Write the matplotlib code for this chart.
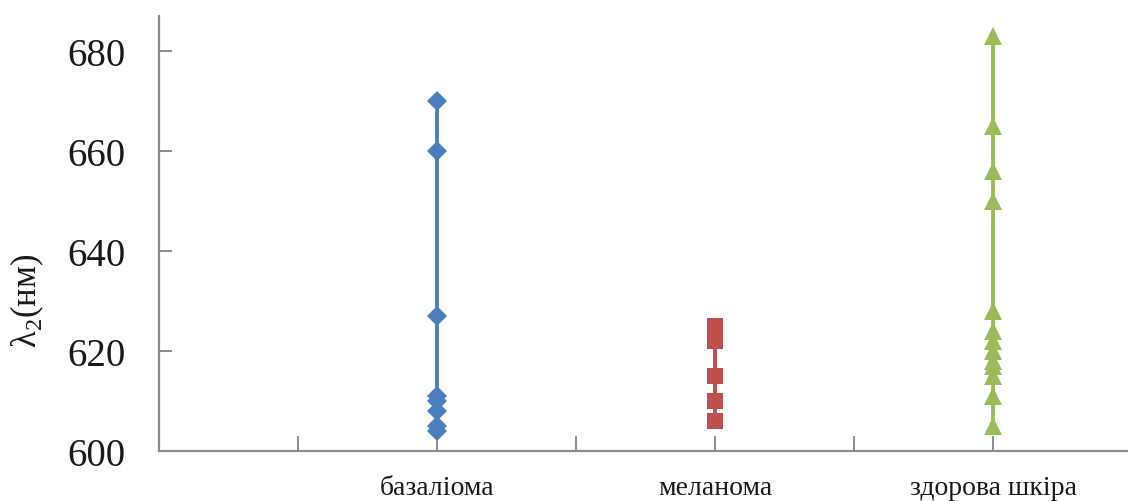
import matplotlib
matplotlib.use('Agg')
import matplotlib.pyplot as plt

# значення λ2 для кожної групи
categories = ['базаліома', 'меланома', 'здорова шкіра']
bazalioma = [670, 660, 627, 611, 610, 608, 605, 604]
melanoma = [625, 622, 615, 610, 606]
zdorova = [683, 665, 656, 650, 628, 624, 622, 620, 618, 617, 615, 611, 605]
y_ticks = [600, 620, 640, 660, 680]

plt.rcParams['font.family'] = ['Liberation Serif', 'DejaVu Serif']
plt.rcParams['mathtext.fontset'] = 'custom'
plt.rcParams['mathtext.rm'] = 'Liberation Serif'

fig = plt.figure(figsize=(11.28, 5.02), dpi=100)
ax = fig.add_axes([0.141, 0.0996, 0.859, 0.866])

series = [
    (bazalioma, 'D', 10, '#4A7EBE'),
    (melanoma, 's', 11.5, '#C0504D'),
    (zdorova, '^', 13, '#9BBB59'),
]
for i, (vals, marker, ms, color) in enumerate(series):
    x = [i + 1] * len(vals)
    ax.plot(x, vals, color=color, linewidth=2.8, marker=marker,
            markersize=ms, markeredgewidth=0, zorder=3)

ax.set_xlim(0, 3.485)
ax.set_ylim(600, 687)

# мітки лише під категоріями, штрихи через 0.5
ax.set_xticks([0.5, 1, 1.5, 2, 2.5, 3])
ax.set_xticklabels(['', categories[0], '', categories[1], '', categories[2]])
ax.set_yticks(y_ticks)

for side in ['top', 'right']:
    ax.spines[side].set_visible(False)
for side in ['left', 'bottom']:
    ax.spines[side].set_color('#8C8C8C')
    ax.spines[side].set_linewidth(1.6)

ax.tick_params(axis='y', direction='in', length=9, width=1.4, color='#8C8C8C',
               labelsize=28, pad=24, labelcolor='#1a1a1a')
ax.tick_params(axis='x', direction='in', length=11, width=1.4, color='#8C8C8C',
               labelsize=20, pad=17, labelcolor='#1a1a1a')

fig.text(27 / 1128, 0.40, 'λ$_{2}$(нм)', rotation=90, ha='center', va='center',
         fontsize=25, color='#1a1a1a')

fig.savefig('out.png', dpi=100)
